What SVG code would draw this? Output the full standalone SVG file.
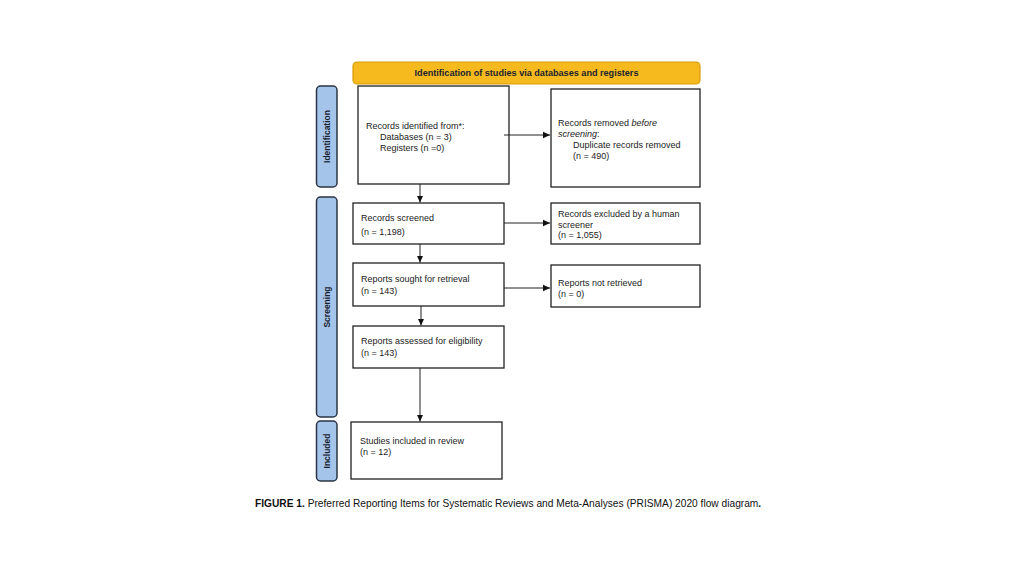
<svg xmlns="http://www.w3.org/2000/svg" width="1024" height="576" viewBox="0 0 1024 576">
<defs>
<marker id="arr" markerWidth="8" markerHeight="8" refX="7" refY="4" orient="auto" markerUnits="userSpaceOnUse">
<path d="M0,0.8 L7,4 L0,7.2 Z" fill="#111"/>
</marker>
<style>
.box{fill:#fff;stroke:#222;stroke-width:1.3}
.side{fill:#a4c4ea;stroke:#2a3444;stroke-width:1.5}
.t{font-family:"Liberation Sans",Arial,sans-serif;font-size:9px;fill:#222}
.sl{font-family:"Liberation Sans",Arial,sans-serif;font-size:8.5px;font-weight:bold;fill:#1a2230}
.c{stroke:#222;stroke-width:1;fill:none}
</style>
</defs>
<rect width="1024" height="576" fill="#fff"/>
<g id="banner">
<rect x="353" y="62" width="347" height="22" rx="4" fill="#f6ba1e" stroke="#d99c0a" stroke-width="1.2"/>
<text class="sl" x="526.5" y="76" text-anchor="middle" style="font-size:9.1px">Identification of studies via databases and registers</text>
</g>
<g id="side-identification">
<rect class="side" x="316.5" y="86" width="20.5" height="101" rx="4"/>
<text class="sl" transform="translate(330,136.5) rotate(-90)" text-anchor="middle">Identification</text>
</g>
<g id="side-screening">
<rect class="side" x="316.5" y="197" width="20.5" height="220" rx="4"/>
<text class="sl" transform="translate(330,307) rotate(-90)" text-anchor="middle">Screening</text>
</g>
<g id="side-included">
<rect class="side" x="316.5" y="421" width="20.5" height="60" rx="4"/>
<text class="sl" transform="translate(330,451) rotate(-90)" text-anchor="middle">Included</text>
</g>
<g id="n-identified">
<rect class="box" x="358" y="86" width="151" height="98"/>
<text class="t" x="366" y="129">Records identified from*:</text>
<text class="t" x="380" y="140">Databases (n = 3)</text>
<text class="t" x="380" y="150.5">Registers (n =0)</text>
</g>
<g id="n-removed">
<rect class="box" x="551" y="89" width="149" height="98"/>
<text class="t" x="558" y="126">Records removed <tspan font-style="italic">before</tspan></text>
<text class="t" x="558" y="137"><tspan font-style="italic">screening</tspan>:</text>
<text class="t" x="573" y="148">Duplicate records removed</text>
<text class="t" x="573" y="158.5">(n = 490)</text>
</g>
<g id="n-screened">
<rect class="box" x="353" y="203" width="151" height="41"/>
<text class="t" x="361" y="221">Records screened</text>
<text class="t" x="361" y="235">(n = 1,198)</text>
</g>
<g id="n-excluded">
<rect class="box" x="551" y="203" width="149" height="41"/>
<text class="t" x="558" y="217">Records excluded by a human</text>
<text class="t" x="558" y="227.5">screener</text>
<text class="t" x="558" y="238">(n = 1,055)</text>
</g>
<g id="n-sought">
<rect class="box" x="353" y="263" width="151" height="43"/>
<text class="t" x="361" y="282">Reports sought for retrieval</text>
<text class="t" x="361" y="294">(n = 143)</text>
</g>
<g id="n-notretrieved">
<rect class="box" x="551" y="265" width="149" height="42"/>
<text class="t" x="558" y="286">Reports not retrieved</text>
<text class="t" x="558" y="297">(n = 0)</text>
</g>
<g id="n-assessed">
<rect class="box" x="353" y="326" width="151" height="42"/>
<text class="t" x="361" y="344">Reports assessed for eligibility</text>
<text class="t" x="361" y="356">(n = 143)</text>
</g>
<g id="n-included">
<rect class="box" x="351" y="422" width="151" height="57"/>
<text class="t" x="360" y="444">Studies included in review</text>
<text class="t" x="360" y="455">(n = 12)</text>
</g>
<g id="connectors">
<line class="c" x1="504" y1="135" x2="550" y2="135" marker-end="url(#arr)"/>
<line class="c" x1="420" y1="184" x2="420" y2="202.5" marker-end="url(#arr)"/>
<line class="c" x1="504" y1="223" x2="550" y2="223" marker-end="url(#arr)"/>
<line class="c" x1="420" y1="244" x2="420" y2="262.5" marker-end="url(#arr)"/>
<line class="c" x1="504" y1="288" x2="550" y2="288" marker-end="url(#arr)"/>
<line class="c" x1="421" y1="306" x2="421" y2="325.5" marker-end="url(#arr)"/>
<line class="c" x1="420" y1="368" x2="420" y2="421.5" marker-end="url(#arr)"/>
</g>
<g id="caption">
<text x="255" y="507" style="font-family:'Liberation Sans',Arial,sans-serif;font-size:10.2px;fill:#111"><tspan font-weight="bold">FIGURE 1.</tspan> Preferred Reporting Items for Systematic Reviews and Meta-Analyses (PRISMA) 2020 flow diagram<tspan font-weight="bold">.</tspan></text>
</g>
</svg>
